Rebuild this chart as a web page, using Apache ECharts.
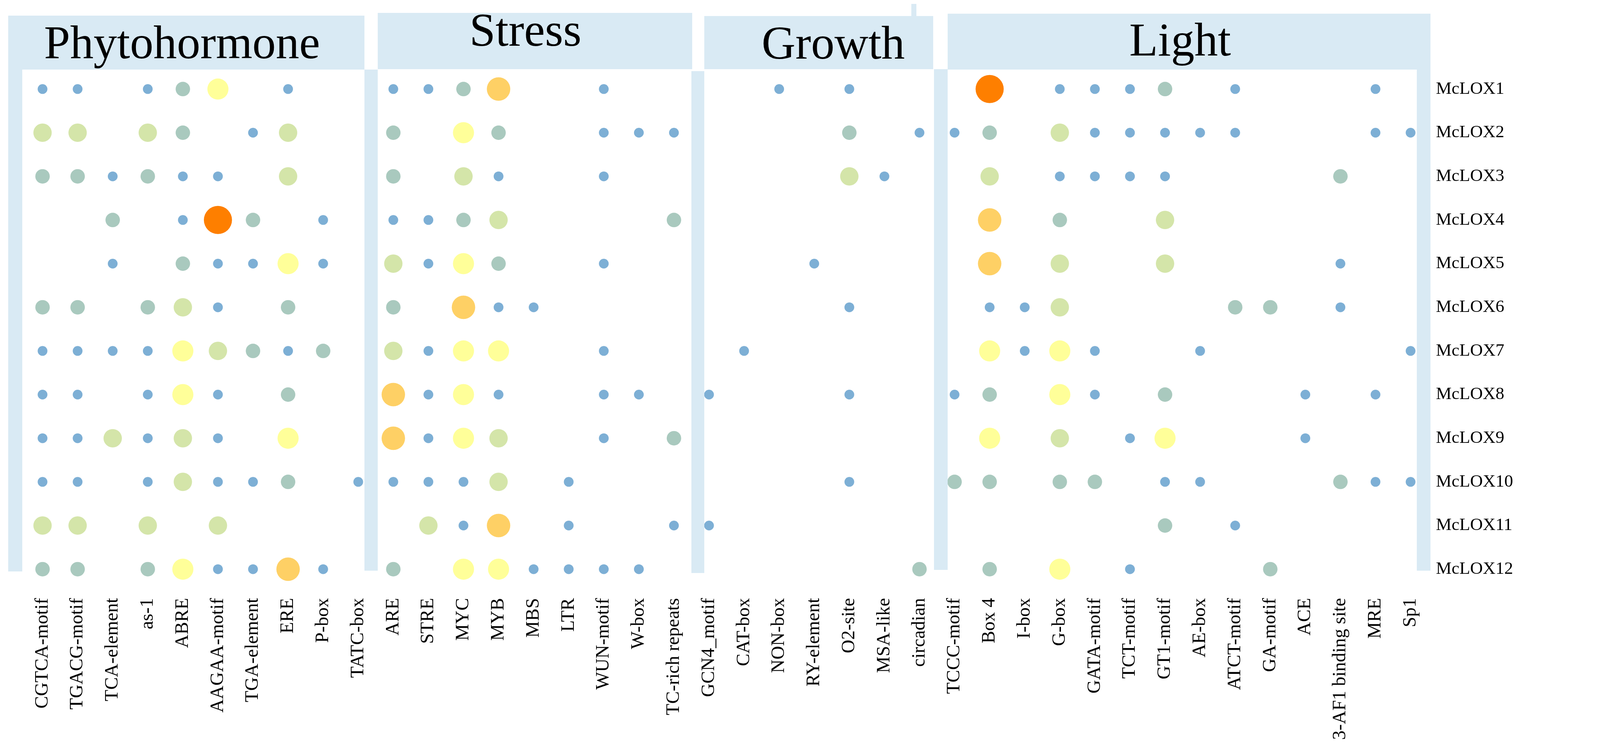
<!DOCTYPE html>
<html>
<head>
<meta charset="utf-8">
<script src="https://cdn.jsdelivr.net/npm/echarts@6/dist/echarts.min.js"></script>
<style>
html,body{margin:0;padding:0;background:#ffffff;}
#chart{width:4222px;height:1906px;}
</style>
</head>
<body>
<div id="chart"></div>
<script>
// ---------- categories ----------
const phytoMotifs  = ['CGTCA-motif','TGACG-motif','TCA-element','as-1','ABRE','AAGAA-motif','TGA-element','ERE','P-box','TATC-box'];
const stressMotifs = ['ARE','STRE','MYC','MYB','MBS','LTR','WUN-motif','W-box','TC-rich repeats'];
const growthMotifs = ['GCN4_motif','CAT-box','NON-box','RY-element','O2-site','MSA-like','circadian'];
const lightMotifs  = ['TCCC-motif','Box 4','I-box','G-box','GATA-motif','TCT-motif','GT1-motif','AE-box','ATCT-motif','GA-motif','ACE','3-AF1 binding site','MRE','Sp1'];
const groupNames   = ['Phytohormone','Stress','Growth','Light'];
const genes = ['McLOX1','McLOX2','McLOX3','McLOX4','McLOX5','McLOX6','McLOX7','McLOX8','McLOX9','McLOX10','McLOX11','McLOX12'];
const legendValues = [1,2,3,4,5,6,7];

// ---------- counts (phytohormone | stress | growth | light) ----------
const McLOX1  = [1,1,0,1,2,4,0,1,0,0,  1,1,2,5,0,0,1,0,0,  0,0,1,0,1,0,0,  0,7,0,1,1,1,2,0,1,0,0,0,1,0];
const McLOX2  = [3,3,0,3,2,0,1,3,0,0,  2,0,4,2,0,0,1,1,1,  0,0,0,0,2,0,1,  1,2,0,3,1,1,1,1,1,0,0,0,1,1];
const McLOX3  = [2,2,1,2,1,1,0,3,0,0,  2,0,3,1,0,0,1,0,0,  0,0,0,0,3,1,0,  0,3,0,1,1,1,1,0,0,0,0,2,0,0];
const McLOX4  = [0,0,2,0,1,7,2,0,1,0,  1,1,2,3,0,0,0,0,2,  0,0,0,0,0,0,0,  0,5,0,2,0,0,3,0,0,0,0,0,0,0];
const McLOX5  = [0,0,1,0,2,1,1,4,1,0,  3,1,4,2,0,0,1,0,0,  0,0,0,1,0,0,0,  0,5,0,3,0,0,3,0,0,0,0,1,0,0];
const McLOX6  = [2,2,0,2,3,1,0,2,0,0,  2,0,5,1,1,0,0,0,0,  0,0,0,0,1,0,0,  0,1,1,3,0,0,0,0,2,2,0,1,0,0];
const McLOX7  = [1,1,1,1,4,3,2,1,2,0,  3,1,4,4,0,0,1,0,0,  0,1,0,0,0,0,0,  0,4,1,4,1,0,0,1,0,0,0,0,0,1];
const McLOX8  = [1,1,0,1,4,1,0,2,0,0,  5,1,4,1,0,0,1,1,0,  1,0,0,0,1,0,0,  1,2,0,4,1,0,2,0,0,0,1,0,1,0];
const McLOX9  = [1,1,3,1,3,1,0,4,0,0,  5,1,4,3,0,0,1,0,2,  0,0,0,0,0,0,0,  0,4,0,3,0,1,4,0,0,0,1,0,0,0];
const McLOX10 = [1,1,0,1,3,1,1,2,0,1,  1,1,1,3,0,1,0,0,0,  0,0,0,0,1,0,0,  2,2,0,2,2,0,1,1,0,0,0,2,1,1];
const McLOX11 = [3,3,0,3,0,3,0,0,0,0,  0,3,1,5,0,1,0,0,1,  1,0,0,0,0,0,0,  0,0,0,0,0,0,2,0,1,0,0,0,0,0];
const McLOX12 = [2,2,0,2,4,1,1,5,1,0,  2,0,4,4,1,1,1,1,0,  0,0,0,0,0,0,2,  0,2,0,4,0,1,0,0,0,2,0,0,0,0];

// ---------- styles ----------
const sizeByValue  = [0,25,37,47,54,60,66,72];
const colorByValue = ['#ffffff','#7dafd5','#a9c9be','#d4e5a9','#ffff99','#fed065','#fda83c','#fe7f00'];
const panelColor = '#d9eaf4';
const serif = 'Liberation Serif, Times New Roman, serif';

const motifs = [].concat(phytoMotifs, stressMotifs, growthMotifs, lightMotifs);
const rows = [McLOX1,McLOX2,McLOX3,McLOX4,McLOX5,McLOX6,McLOX7,McLOX8,McLOX9,McLOX10,McLOX11,McLOX12];
const points = [];
rows.forEach((row, r) => row.forEach((v, c) => { if (v > 0) points.push([c, r, v]); }));

function rect(x, y, w, h) {
  return { type: 'rect', z: 100, shape: { x: x, y: y, width: w, height: h }, style: { fill: panelColor } };
}
function header(text, cx, cy) {
  return { type: 'text', z: 101, style: { text: text, x: cx, y: cy, textAlign: 'center', textVerticalAlign: 'middle',
           font: '120px ' + serif, fill: '#000000' } };
}

const chart = echarts.init(document.getElementById('chart'), null, { renderer: 'canvas' });
chart.setOption({
  backgroundColor: '#ffffff',
  animation: false,
  grid: [
    { left: 64, top: 172, width: 3592, height: 1340 },
    { left: 4110, top: 246, width: 44, height: 640 }
  ],
  xAxis: [
    { gridIndex: 0, type: 'category', data: motifs, position: 'bottom',
      axisLine: { show: false }, axisTick: { show: false }, splitLine: { show: false },
      axisLabel: { interval: 0, rotate: 90, margin: 18, fontFamily: serif, fontSize: 48, color: '#000' } },
    { gridIndex: 1, type: 'category', data: ['n'], show: false }
  ],
  yAxis: [
    { gridIndex: 0, type: 'category', data: genes, inverse: true, position: 'right',
      axisLine: { show: false }, axisTick: { show: false }, splitLine: { show: false },
      axisLabel: { margin: 20, fontFamily: serif, fontSize: 45, color: '#000' } },
    { gridIndex: 1, type: 'category', data: legendValues.map(String), inverse: true, position: 'right',
      axisLine: { show: false }, axisTick: { show: false }, splitLine: { show: false },
      axisLabel: { margin: 33, fontFamily: 'Liberation Sans, Arial, sans-serif', fontSize: 34, color: '#222' } }
  ],
  series: [
    { type: 'scatter', xAxisIndex: 0, yAxisIndex: 0, data: points, z: 2,
      symbol: 'circle',
      symbolSize: d => sizeByValue[d[2]],
      itemStyle: { color: p => colorByValue[p.data[2]], opacity: 1 } },
    { type: 'scatter', xAxisIndex: 1, yAxisIndex: 1, z: 2,
      data: legendValues.map((v, i) => [0, i, v]),
      symbol: 'circle',
      symbolSize: d => sizeByValue[d[2]],
      itemStyle: { color: p => colorByValue[p.data[2]], opacity: 1 } }
  ],
  graphic: [
    rect(21, 40, 912, 138),
    rect(21, 178, 36, 1284),
    rect(933, 178, 34, 1282),
    rect(967, 33, 805, 144),
    rect(1770, 182, 33, 1284),
    rect(1803, 41, 586, 136),
    rect(2333, 10, 13, 31),
    rect(2391, 177, 35, 1281),
    rect(2426, 35, 1236, 143),
    rect(3627, 178, 35, 1282),
    header(groupNames[0], 466, 117),
    header(groupNames[1], 1345, 85),
    header(groupNames[2], 2133, 118),
    header(groupNames[3], 3021, 110)
  ]
});
</script>
</body>
</html>
